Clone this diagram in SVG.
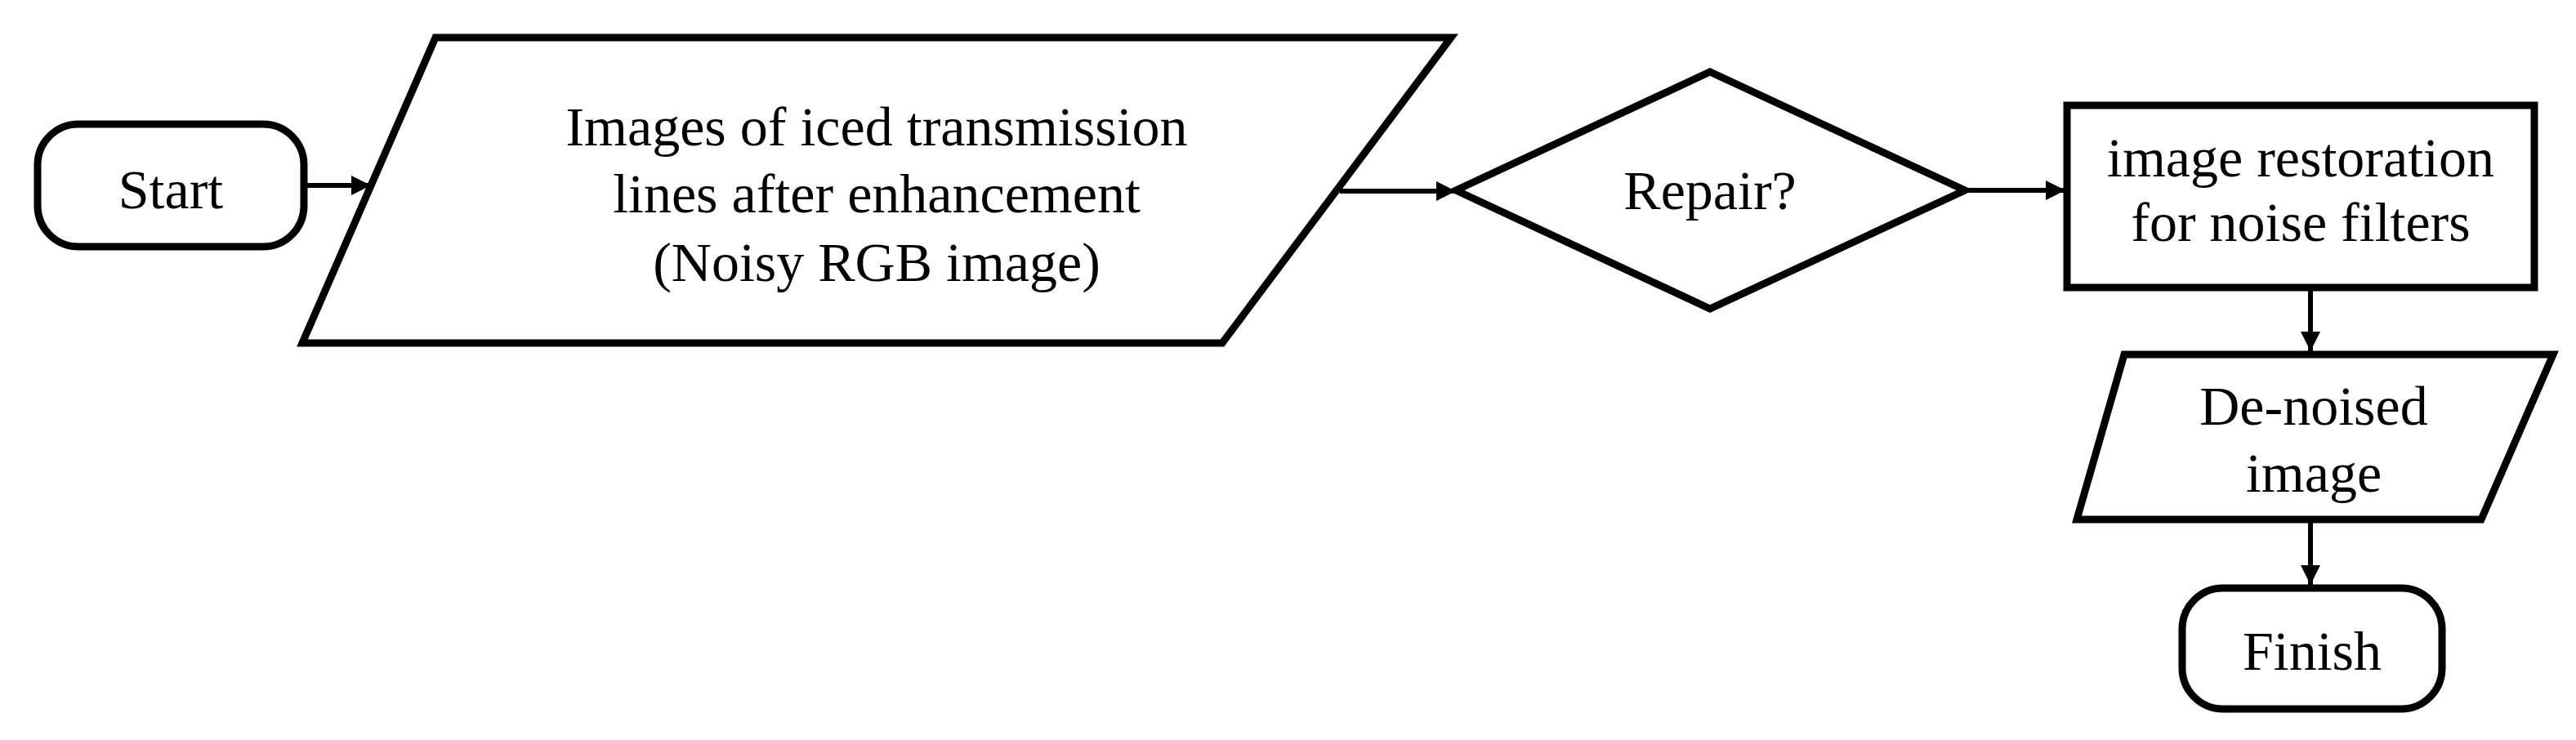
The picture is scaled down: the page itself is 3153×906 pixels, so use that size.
<svg xmlns="http://www.w3.org/2000/svg" width="3153" height="906" viewBox="0 0 3153 906">
<style>
.s{fill:#fff;stroke:#000;stroke-width:9;stroke-linejoin:miter}
.t{font-family:'Liberation Serif','Times New Roman','DejaVu Serif',serif;font-size:68px;text-anchor:middle;fill:#000}
</style>
<defs>
<marker id="b" viewBox="0 0 10 10" refX="10" refY="5" markerWidth="24" markerHeight="24" orient="auto" markerUnits="userSpaceOnUse"><path d="M0,0 L10,5 L0,10 Z" fill="#000"/></marker></defs>
<g id="start"><rect class="s" x="46" y="152" width="326" height="150" rx="50"/><text class="t" x="209" y="255">Start</text></g>
<g id="input"><polygon class="s" points="533,46 1776,46 1496,420 370,420"/>
<text class="t" x="1073" y="178">Images of iced transmission</text>
<text class="t" x="1073" y="260">lines after enhancement</text>
<text class="t" x="1073" y="344">(Noisy RGB image)</text></g>
<g id="repair"><polygon class="s" points="1782,233 2093,88 2405,233 2093,378"/><text class="t" x="2093" y="256">Repair?</text></g>
<g id="restore"><rect class="s" x="2530" y="129" width="572" height="223"/>
<text class="t" x="2816" y="216">image restoration</text>
<text class="t" x="2816" y="295">for noise filters</text></g>
<g id="denoised"><polygon class="s" points="2600,434 3125,434 3037,636 2542,636"/>
<text class="t" x="2832" y="520">De-noised</text>
<text class="t" x="2832" y="602">image</text></g>
<g id="finish"><rect class="s" x="2671" y="720" width="318" height="148" rx="50"/><text class="t" x="2830" y="820">Finish</text></g>
<g id="connectors">
<line x1="376" y1="227" x2="454" y2="227" stroke="#000" stroke-width="6" marker-end="url(#b)"/>
<line x1="1640" y1="234" x2="1782" y2="234" stroke="#000" stroke-width="6" marker-end="url(#b)"/>
<line x1="2409" y1="233" x2="2528" y2="233" stroke="#000" stroke-width="6" marker-end="url(#b)"/>
<line x1="2828" y1="356" x2="2828" y2="430" stroke="#000" stroke-width="6" marker-end="url(#b)"/>
<line x1="2828" y1="640" x2="2828" y2="716" stroke="#000" stroke-width="6" marker-end="url(#b)"/>
</g>
</svg>
